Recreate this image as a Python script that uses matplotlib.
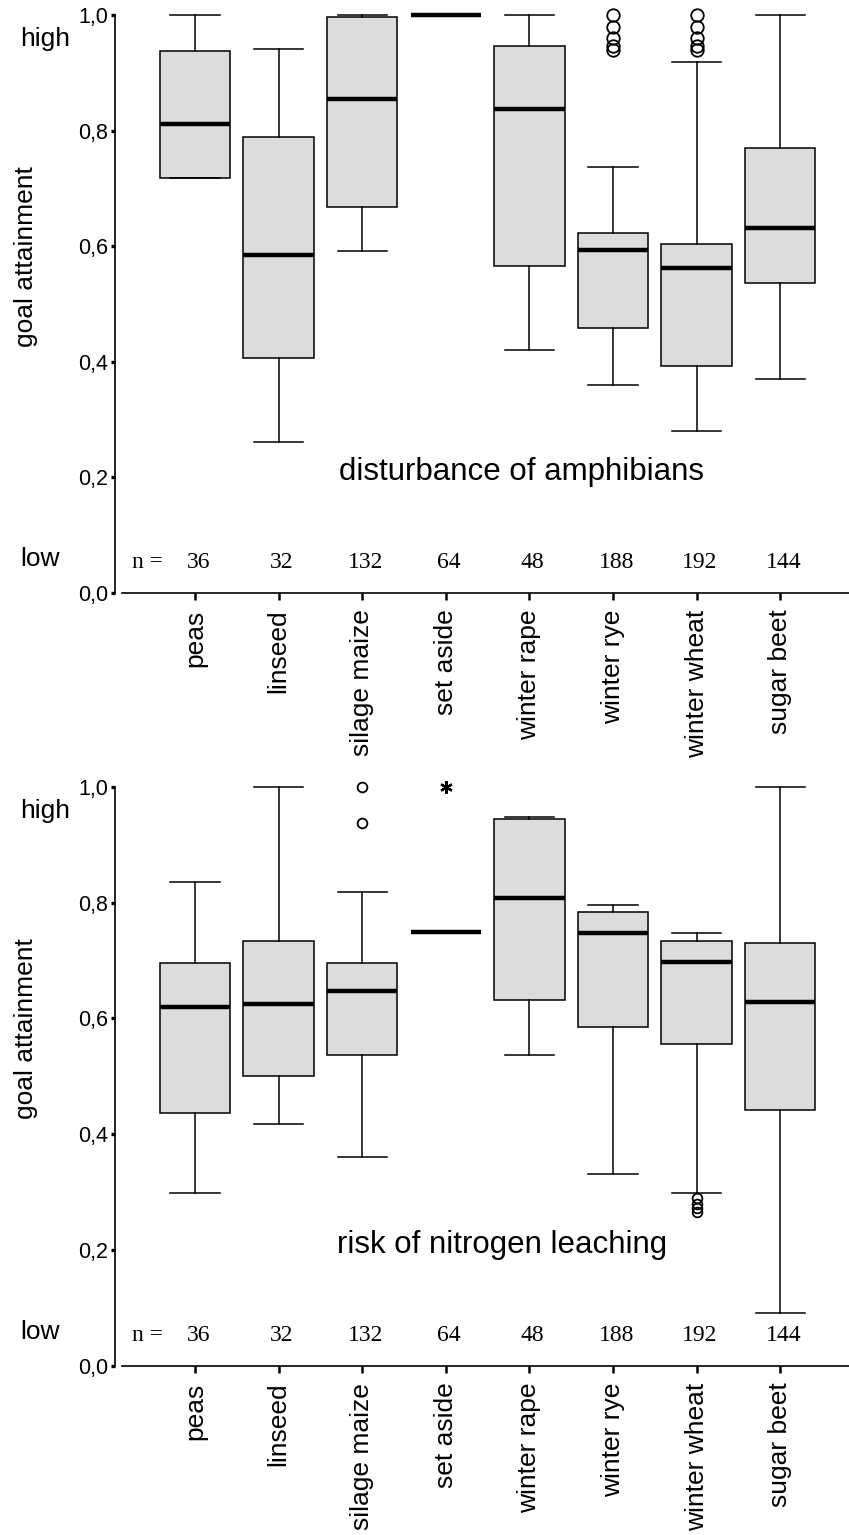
import numpy as np
import matplotlib
matplotlib.use('Agg')
import matplotlib.pyplot as plt
from matplotlib import transforms

plt.rcParams['font.family'] = ['Liberation Sans', 'DejaVu Sans']

crops = ['peas', 'linseed', 'silage maize', 'set aside',
         'winter rape', 'winter rye', 'winter wheat', 'sugar beet']
n_obs = [36, 32, 132, 64, 48, 188, 192, 144]
y_ticks = [0.0, 0.2, 0.4, 0.6, 0.8, 1.0]

# disturbance of amphibians
amph_whislo = [0.718, 0.260, 0.591, 1.0, 0.420, 0.360, 0.280, 0.370]
amph_q1 = [0.718, 0.407, 0.668, 1.0, 0.566, 0.459, 0.393, 0.536]
amph_med = [0.811, 0.585, 0.855, 1.0, 0.837, 0.593, 0.562, 0.631]
amph_q3 = [0.938, 0.789, 0.996, 1.0, 0.947, 0.622, 0.603, 0.770]
amph_whishi = [1.0, 0.941, 1.0, 1.0, 1.0, 0.737, 0.919, 1.0]
amph_out = [[], [], [], [], [],
            [1.0, 0.98, 0.96, 0.947, 0.94],
            [1.0, 0.98, 0.96, 0.947, 0.94], []]
amph_extreme = [[], [], [], [], [], [], [], []]

# risk of nitrogen leaching
nit_whislo = [0.298, 0.418, 0.360, 0.75, 0.537, 0.331, 0.298, 0.091]
nit_q1 = [0.436, 0.501, 0.536, 0.75, 0.632, 0.586, 0.556, 0.442]
nit_med = [0.619, 0.625, 0.648, 0.75, 0.808, 0.747, 0.697, 0.628]
nit_q3 = [0.696, 0.734, 0.696, 0.75, 0.945, 0.784, 0.734, 0.731]
nit_whishi = [0.836, 1.0, 0.818, 0.75, 0.948, 0.796, 0.747, 1.0]
nit_out = [[], [], [1.0, 0.938], [], [], [],
           [0.29, 0.28, 0.272, 0.265], []]
nit_extreme = [[], [], [], [1.0], [], [], [], []]

W, H = 849, 1535
fig = plt.figure(figsize=(W / 100, H / 100), dpi=100)
pos = np.arange(len(crops))


def panel(rect, whislo, q1, med, q3, whishi, out, extreme, title, title_x,
          flier_size):
    ax = fig.add_axes(rect)
    stats = []
    for i in range(len(crops)):
        stats.append(dict(whislo=whislo[i], q1=q1[i], med=med[i], q3=q3[i],
                          whishi=whishi[i], fliers=out[i]))
    ax.bxp(stats, positions=pos, widths=0.84, capwidths=0.59,
           patch_artist=True, manage_ticks=False,
           boxprops=dict(facecolor='#dcdcdc', edgecolor='black', linewidth=1.1),
           medianprops=dict(color='black', linewidth=3.2, solid_capstyle='butt'),
           whiskerprops=dict(color='black', linewidth=1.1),
           capprops=dict(color='black', linewidth=1.1),
           flierprops=dict(marker='o', markerfacecolor='none',
                           markeredgecolor='black', markersize=flier_size,
                           markeredgewidth=1.3))
    for i, vals in enumerate(extreme):
        if vals:
            ax.plot([pos[i]] * len(vals), vals, linestyle='none',
                    marker=(6, 2, 0), markersize=9, markeredgewidth=1.6,
                    color='black', clip_on=False)

    ax.set_xlim(-0.873, 7.823)
    ax.set_ylim(0, 1.02)
    for s in ['top', 'right']:
        ax.spines[s].set_visible(False)
    ax.spines['left'].set_position(('outward', 5))
    ax.spines['left'].set_bounds(0, 1)
    ax.spines['left'].set_linewidth(1.2)
    ax.spines['bottom'].set_linewidth(1.2)

    ax.set_yticks(y_ticks, [f'{v:.1f}'.replace('.', ',') for v in y_ticks])
    ax.tick_params(axis='y', direction='out', length=3, width=2.4, pad=2,
                   labelsize=15.5)
    ax.set_xticks(pos, crops, rotation=90)
    ax.tick_params(axis='x', direction='out', length=5, width=1.8, pad=7,
                   labelsize=19)

    # sample sizes along the bottom
    ax.text(-0.574, 0.043, 'n =', family='Liberation Serif', fontsize=17,
            ha='center', va='baseline')
    for i, n in enumerate(n_obs):
        ax.text(pos[i] + 0.04, 0.043, str(n), family='Liberation Serif',
                fontsize=17, ha='center', va='baseline')

    ax.text(title_x, 0.195, title, fontsize=22.5, ha='center', va='baseline')

    tr = transforms.blended_transform_factory(fig.transFigure, ax.transData)
    ax.text(20 / W, 0.946, 'high', fontsize=19, ha='left', va='baseline',
            transform=tr, clip_on=False)
    ax.text(20 / W, 0.046, 'low', fontsize=19, ha='left', va='baseline',
            transform=tr, clip_on=False)
    ax.text(26 / W, 0.582, 'goal attainment', fontsize=19, rotation=90,
            ha='center', va='center', transform=tr, clip_on=False)
    return ax


panel([122 / W, 1 - 592.7 / H, 727 / W, 1.02 * 577.7 / H],
      amph_whislo, amph_q1, amph_med, amph_q3, amph_whishi, amph_out,
      amph_extreme, 'disturbance of amphibians', 3.90, 9)
panel([122 / W, 1 - 1366 / H, 727 / W, 1.02 * 579.3 / H],
      nit_whislo, nit_q1, nit_med, nit_q3, nit_whishi, nit_out,
      nit_extreme, 'risk of nitrogen leaching', 3.67, 7)

fig.savefig('out.png', dpi=100)
